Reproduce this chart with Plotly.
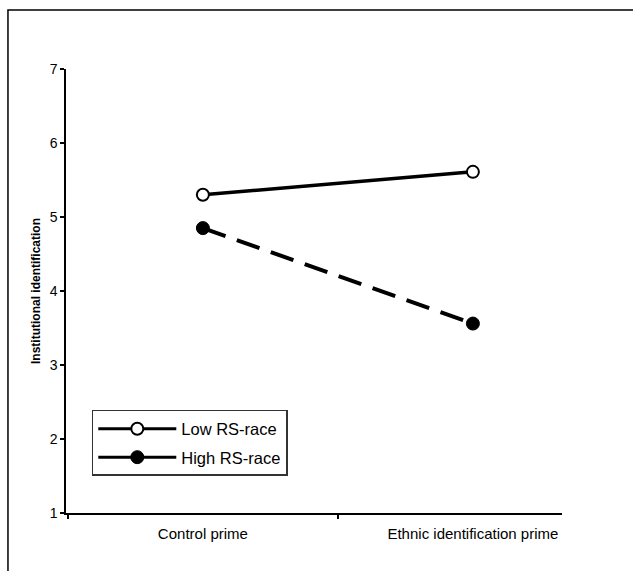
import plotly.graph_objects as go

categories = ["Control prime", "Ethnic identification prime"]
low_rs = [5.30, 5.61]
high_rs = [4.85, 3.56]
y_ticks = [1, 2, 3, 4, 5, 6, 7]
series_names = ["Low RS-race", "High RS-race"]

font = "Liberation Sans, Arial, sans-serif"
low_marker = dict(symbol="circle", size=12, color="white", line=dict(color="black", width=2))
high_marker = dict(symbol="circle", size=13, color="black", line=dict(color="black", width=1))

fig = go.Figure()
fig.add_trace(go.Scatter(
    x=categories, y=low_rs, name=series_names[0], mode="lines+markers",
    line=dict(color="black", width=3.5), marker=low_marker,
    showlegend=False, legendgroup="low",
))
fig.add_trace(go.Scatter(
    x=categories, y=high_rs, name=series_names[1], mode="lines+markers",
    line=dict(color="black", width=4, dash="24px,12px"), marker=high_marker,
    showlegend=False, legendgroup="high",
))
# legend entries (solid lines, as in the original legend)
fig.add_trace(go.Scatter(
    x=[None], y=[None], name=series_names[0], mode="lines+markers",
    line=dict(color="black", width=3), marker=low_marker, legendgroup="low",
))
fig.add_trace(go.Scatter(
    x=[None], y=[None], name=series_names[1], mode="lines+markers",
    line=dict(color="black", width=3), marker=high_marker, legendgroup="high",
))

fig.update_layout(
    width=633, height=571,
    margin=dict(l=66, r=71, t=69, b=58),
    paper_bgcolor="white", plot_bgcolor="white",
    font=dict(family=font, color="black"),
    showlegend=True,
    legend=dict(
        x=0.052, y=0.232, xanchor="left", yanchor="top",
        bordercolor="#333", borderwidth=1.5, bgcolor="white",
        font=dict(size=16.5, family=font), tracegroupgap=4,
        itemwidth=78,
    ),
    xaxis=dict(
        type="category", range=[-0.507, 1.33],
        tickson="boundaries", ticks="outside", ticklen=4,
        tickcolor="black", tickwidth=1.5,
        showgrid=False, zeroline=False,
        showline=True, linecolor="black", linewidth=2,
        tickfont=dict(size=15, family=font),
        ticklabelstandoff=6,
    ),
    yaxis=dict(
        range=[1, 7], tickvals=y_ticks, ticks="outside", ticklen=4,
        tickcolor="black", tickwidth=1.5,
        showgrid=False, zeroline=False,
        showline=True, linecolor="black", linewidth=1.5,
        tickfont=dict(size=14, family=font),
        title=dict(text="<b>Institutional identification</b>", font=dict(size=12, family=font), standoff=6),
    ),
    shapes=[dict(
        type="rect", xref="paper", yref="paper",
        x0=-0.117, x1=1.2, y0=-0.2, y1=1.133,
        line=dict(color="black", width=1.5), layer="below",
    )],
)

fig.write_html("out.html")
